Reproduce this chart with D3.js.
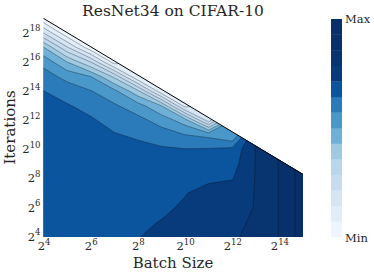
<!DOCTYPE html>
<html>
<head>
<meta charset="utf-8">
<title>ResNet34 on CIFAR-10</title>
<script src="https://cdn.jsdelivr.net/npm/d3@7"></script>
<style>
  body { margin: 0; background: #fff; }
  svg text { font-family: "DejaVu Serif", serif; fill: #262626; }
</style>
</head>
<body>
<svg id="chart" width="374" height="277"></svg>
<script>
// log2 exponents of the grid
var batchExp = [4, 5, 6, 7, 8, 9, 10, 11, 12, 13, 14, 15];
var iterExp = [4, 5, 6, 7, 8, 9, 10, 11, 12, 13, 14, 15, 16, 17, 18, 19];

// level (0 = Min .. 13 = Max) for each iteration row, batch column; null = beyond the budget line
var accGrid = [
    [9.5, 9.5, 9.5, 9.5, 9.95, 10.4, 10.6, 10.75, 10.9, 11.2, 12.05, 13.5],
    [9.5, 9.5, 9.5, 9.5, 9.8, 10.05, 10.4, 10.6, 10.85, 11.1, 12.05, 13.5],
    [9.5, 9.5, 9.5, 9.5, 9.5, 9.8, 10.15, 10.4, 10.6, 11.05, 12.05, 13.5],
    [9.5, 9.5, 9.5, 9.5, 9.5, 9.6, 9.95, 10.4, 10.5, 11.05, 12.05, 13.5],
    [9.5, 9.5, 9.5, 9.5, 9.5, 9.5, 9.7, 9.8, 9.95, 11.05, 12.05, 13.5],
    [9.5, 9.5, 9.5, 9.5, 9.5, 9.4, 9.4, 9.45, 9.6, 11.05, 12.05, null],
    [9.5, 9.5, 9.5, 9.5, 9.29, 9.15, 9.05, 9.1, 9.3, 11.05, null, null],
    [9.5, 9.5, 9.5, 9.08, 8.84, 8.46, 8.02, 7.75, 7.0, null, null, null],
    [9.5, 9.43, 9.14, 8.62, 8.32, 7.6, 6.5, 2.5, null, null, null, null],
    [9.33, 9.09, 8.65, 8.14, 7.43, 6.02, 1.6, null, null, null, null, null],
    [9.02, 8.52, 8.06, 7.3, 5.29, 1.3, null, null, null, null, null, null],
    [8.43, 7.71, 7.02, 4.8, 1.0, null, null, null, null, null, null, null],
    [7.71, 6.02, 4.02, 0.5, null, null, null, null, null, null, null, null],
    [6.09, 3.14, 0.3, null, null, null, null, null, null, null, null, null],
    [3.0, 0.2, null, null, null, null, null, null, null, null, null, null],
    [0.2, null, null, null, null, null, null, null, null, null, null, null]
];

var levelColors = ["#eef5fc", "#e1edf8", "#d5e5f4", "#c8dcf0", "#bad6eb", "#9ecae1", "#6fb0d7",
                   "#4a98c9", "#2b7bba", "#0b559f", "#083b7c", "#08346f", "#08316c", "#082f69"];

// budget line (log2 batch, log2 iterations)
var budgetLine = [[4, 19], [15, 8.3]];

var xTickExp = [4, 6, 8, 10, 12, 14];
var yTickExp = [4, 6, 8, 10, 12, 14, 16, 18];

var svg = d3.select("#chart");

var x = d3.scaleLog().base(2).domain([Math.pow(2, 4), Math.pow(2, 15)]).range([43.5, 303]);
var y = d3.scaleLog().base(2).domain([Math.pow(2, 4), Math.pow(2, 19)]).range([237, 18.4]);

// flatten grid, cells beyond the line take the last value of their column
var nx = batchExp.length, ny = iterExp.length;
var values = [];
var lastCol = [];
for (var r = 0; r < ny; r++) {
    for (var c = 0; c < nx; c++) {
        var v = accGrid[r][c];
        if (v === null) v = lastCol[c];
        lastCol[c] = v;
        values.push(v);
    }
}

var contours = d3.contours()
    .size([nx, ny])
    .thresholds(d3.range(0, levelColors.length))(values);

var proj = d3.geoTransform({
    point: function(px, py) {
        this.stream.point(
            x(Math.pow(2, batchExp[0] + px - 0.5)),
            y(Math.pow(2, iterExp[0] + py - 0.5)));
    }
});
var path = d3.geoPath(proj);

var clipPts = [
    [x(Math.pow(2, 4)), y(Math.pow(2, 4))],
    [x(Math.pow(2, budgetLine[0][0])), y(Math.pow(2, budgetLine[0][1]))],
    [x(Math.pow(2, budgetLine[1][0])), y(Math.pow(2, budgetLine[1][1]))],
    [x(Math.pow(2, 15)), y(Math.pow(2, 4))]
];

svg.append("defs").append("clipPath").attr("id", "tri")
    .append("polygon")
    .attr("points", clipPts.map(function(p) { return p.join(","); }).join(" "));

var plot = svg.append("g").attr("clip-path", "url(#tri)");

plot.selectAll(".band")
    .data(contours)
    .enter().append("path")
    .attr("class", "band")
    .attr("d", path)
    .attr("fill", function(d) { return levelColors[d.value]; })
    .attr("stroke", function(d) { return levelColors[d.value]; })
    .attr("stroke-width", 0.3);

plot.selectAll(".iso")
    .data(contours.filter(function(d) { return d.value > 0; }))
    .enter().append("path")
    .attr("class", "iso")
    .attr("d", path)
    .attr("fill", "none")
    .attr("stroke", "#111")
    .attr("stroke-opacity", 0.55)
    .attr("stroke-width", 0.6);

// budget line
svg.append("line")
    .attr("x1", clipPts[1][0]).attr("y1", clipPts[1][1])
    .attr("x2", clipPts[2][0]).attr("y2", clipPts[2][1])
    .attr("stroke", "#000")
    .attr("stroke-width", 1);

function powLabel(sel) {
    sel.each(function(d) {
        var t = d3.select(this).text("");
        t.append("tspan").text("2");
        t.append("tspan").attr("dy", -5.5).attr("font-size", 8.5).text(Math.round(Math.log2(d)));
    });
}

var xAxis = d3.axisBottom(x).tickValues(xTickExp.map(function(e) { return Math.pow(2, e); })).tickSize(0);
var gx = svg.append("g").attr("transform", "translate(0,237)").call(xAxis);
gx.select(".domain").remove();
gx.attr("font-size", 11.5).attr("font-family", null);
gx.selectAll(".tick text").attr("y", 13).attr("dy", 0).call(powLabel);

var yAxis = d3.axisLeft(y).tickValues(yTickExp.map(function(e) { return Math.pow(2, e); })).tickSize(0).tickPadding(3);
var gy = svg.append("g").attr("transform", "translate(43.5,0)").call(yAxis);
gy.select(".domain").remove();
gy.attr("font-size", 11.5).attr("font-family", null);
gy.selectAll(".tick text").attr("dy", "0.28em").call(powLabel);

svg.append("text")
    .attr("x", 173).attr("y", 16)
    .attr("text-anchor", "middle")
    .style("font-size", "15.5px")
    .text("ResNet34 on CIFAR-10");

svg.append("text")
    .attr("x", 173).attr("y", 268)
    .attr("text-anchor", "middle")
    .style("font-size", "15px")
    .text("Batch Size");

svg.append("text")
    .attr("transform", "translate(15,127.5) rotate(-90)")
    .attr("text-anchor", "middle")
    .style("font-size", "15px")
    .text("Iterations");

// colorbar
var cb = d3.scaleLinear().domain([0, levelColors.length]).range([237, 19]);
svg.selectAll(".cbar")
    .data(levelColors)
    .enter().append("rect")
    .attr("class", "cbar")
    .attr("x", 331)
    .attr("width", 11)
    .attr("y", function(d, i) { return cb(i + 1); })
    .attr("height", function(d, i) { return cb(i) - cb(i + 1) + 0.3; })
    .attr("fill", function(d) { return d; });

svg.append("text").attr("x", 345).attr("y", 19).attr("dy", "0.35em")
    .style("font-size", "11.5px").text("Max");
svg.append("text").attr("x", 345).attr("y", 238).attr("dy", "0.35em")
    .style("font-size", "11.5px").text("Min");
</script>
</body>
</html>
